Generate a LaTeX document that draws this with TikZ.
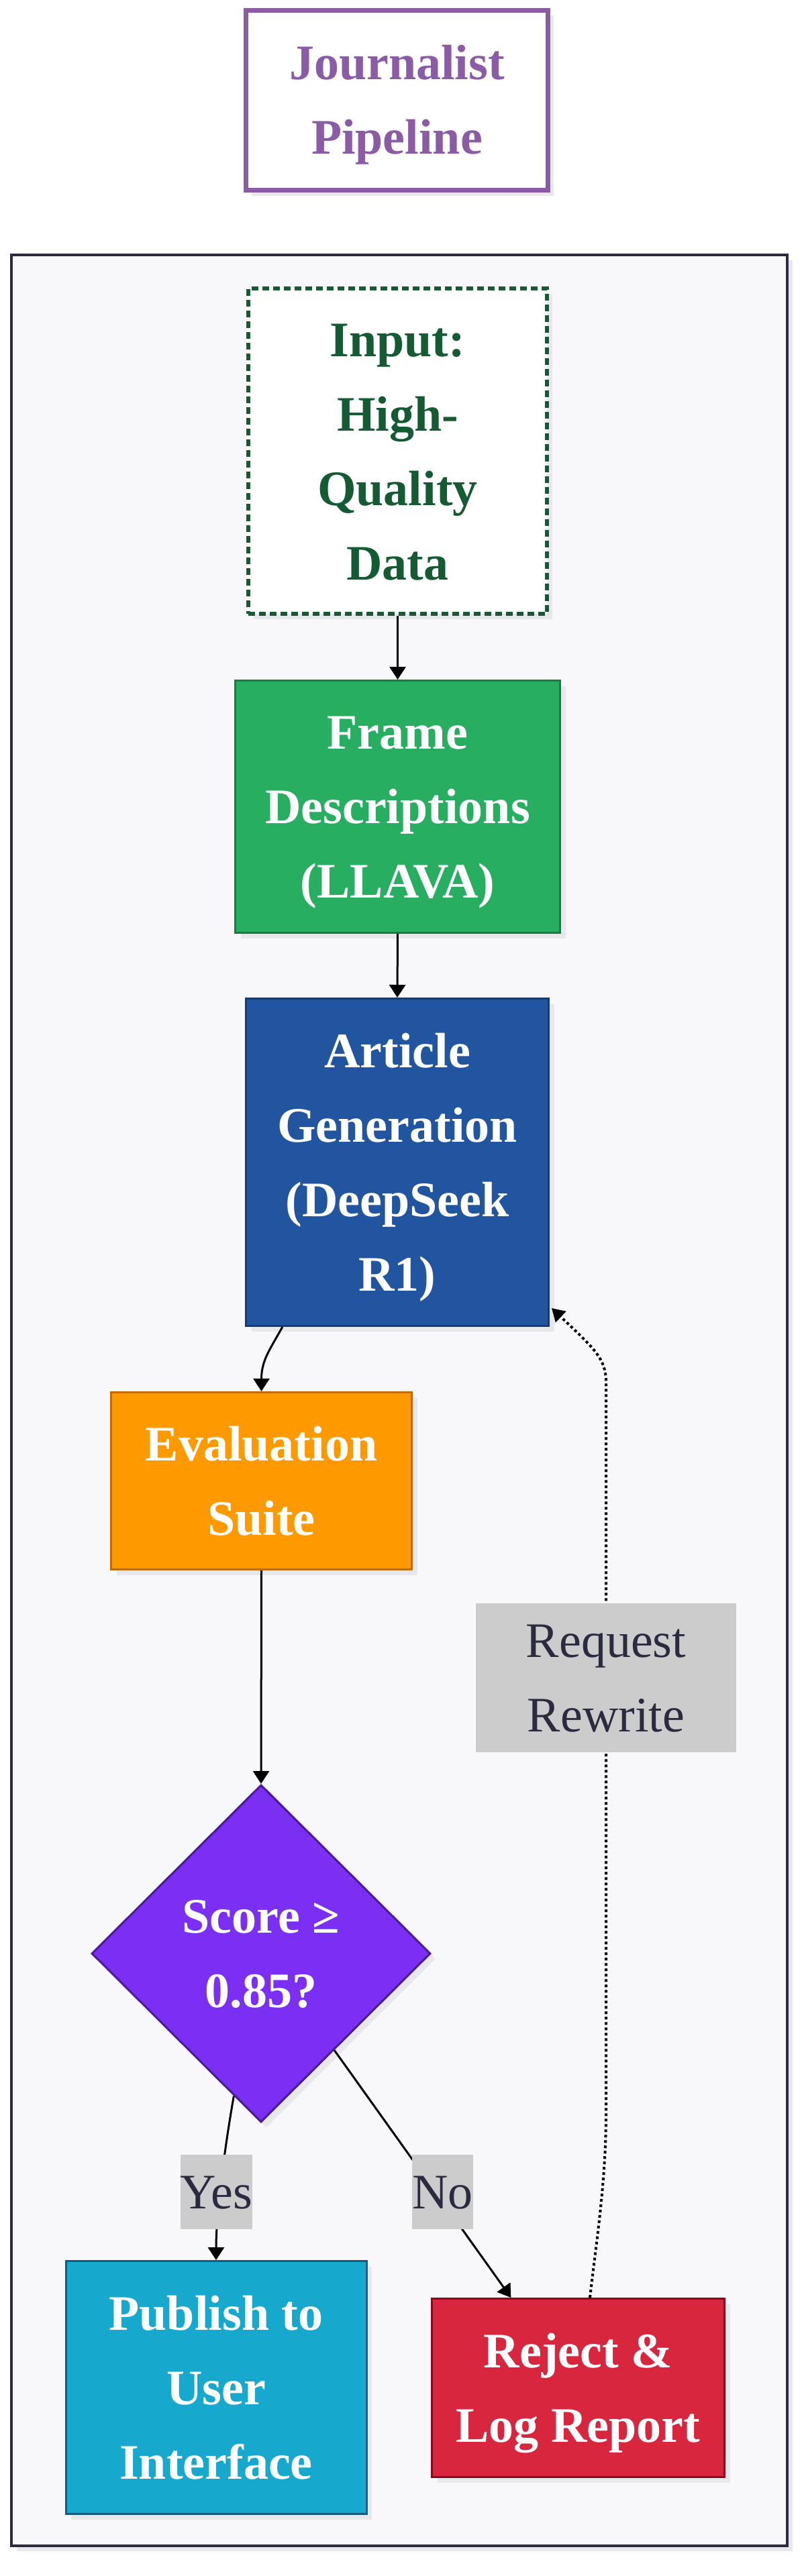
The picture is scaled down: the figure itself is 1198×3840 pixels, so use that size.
\documentclass[tikz,border=0pt]{standalone}
\usepackage{fontspec}
\setmainfont{Liberation Serif}
\usetikzlibrary{shapes.geometric,arrows.meta,calc}
\definecolor{ttl}{HTML}{8B5BA6}
\definecolor{navy}{HTML}{2B2B40}
\definecolor{bgc}{HTML}{F8F8FA}
\definecolor{shad}{HTML}{E8E8EC}
\definecolor{ingreen}{HTML}{145A32}
\definecolor{fdf}{HTML}{27AE60}
\definecolor{fdb}{HTML}{1C7A43}
\definecolor{arf}{HTML}{2255A0}
\definecolor{arb}{HTML}{163C78}
\definecolor{evf}{HTML}{FF9900}
\definecolor{evb}{HTML}{C46A00}
\definecolor{dpf}{HTML}{7B2FF2}
\definecolor{dpb}{HTML}{4B1A9A}
\definecolor{pbf}{HTML}{17A8CE}
\definecolor{pbb}{HTML}{135E80}
\definecolor{rjf}{HTML}{D7263D}
\definecolor{rjb}{HTML}{8B0A1A}
\definecolor{lblf}{HTML}{CCCCCC}
\newcommand\lnstrut{\rule[-30.5pt]{0pt}{111pt}}
\begin{document}
\begin{tikzpicture}[x=1pt,y=-1pt,
  shadowed/.style={preaction={fill=shad, transform canvas={shift={(8pt,-8pt)}}}},
  box/.style={rectangle, shadowed, line width=3pt, align=center, inner sep=0pt,
    font=\fontsize{74}{111}\selectfont\bfseries, text=white},
  lbl/.style={rectangle, fill=lblf, inner sep=0pt, align=center, text=navy,
    font=\fontsize{74}{111}\selectfont},
  edge/.style={line width=3pt, draw=black, -{Triangle[length=19pt,width=24pt]}},
  dotedge/.style={line width=4pt, draw=black, dash pattern=on 4pt off 4pt,
    -{Triangle[length=19pt,width=22pt]}}]
\useasboundingbox (0,0) rectangle (1198,3840);
\fill[white] (0,0) rectangle (1198,3840);

% title
\node[box, draw=ttl, fill=white, text=ttl, line width=7pt,
  minimum width=450pt, minimum height=268pt] (title) at (591.5,149.5)
  {\lnstrut Journalist\\\lnstrut Pipeline};

% container
\node[rectangle, shadowed, draw=navy, fill=bgc, line width=4pt,
  minimum width=1156pt, minimum height=3415pt] (cont) at (595,2087.5) {};

% nodes
\node[box, draw=ingreen, fill=white, text=ingreen, line width=6pt,
  dash pattern=on 10pt off 6pt,
  minimum width=445pt, minimum height=485pt] (inp) at (592.5,672.5)
  {\lnstrut Input:\\\lnstrut High-\\\lnstrut Quality\\\lnstrut Data};
\node[box, draw=fdb, fill=fdf, minimum width=484pt, minimum height=376pt]
  (fd) at (592.5,1202.5) {\lnstrut Frame\\\lnstrut Descriptions\\\lnstrut (LLAVA)};
\node[box, draw=arb, fill=arf, minimum width=451pt, minimum height=488pt]
  (art) at (592,1732.5) {\lnstrut Article\\\lnstrut Generation\\\lnstrut (DeepSeek\\\lnstrut R1)};
\node[box, draw=evb, fill=evf, minimum width=448pt, minimum height=264pt]
  (ev) at (389.5,2207.5) {\lnstrut Evaluation\\\lnstrut Suite};
\node[diamond, aspect=1, shadowed, draw=dpb, fill=dpf, line width=3pt,
  minimum width=505pt, minimum height=503pt, inner sep=0pt, text=white,
  align=center, font=\fontsize{74}{111}\selectfont\bfseries]
  (dia) at (389,2912) {\lnstrut Score ≥\\\lnstrut 0.85?};
\node[box, draw=pbb, fill=pbf, minimum width=448pt, minimum height=377pt]
  (pub) at (322,3559) {\lnstrut Publish to\\\lnstrut User\\\lnstrut Interface};
\node[box, draw=rjb, fill=rjf, minimum width=436pt, minimum height=266pt]
  (rej) at (861.5,3559.5) {\lnstrut Reject \&\\\lnstrut Log Report};

% edges
\draw[edge] (inp.south) -- (fd.north);
\draw[edge] (fd.south) -- (art.north);
\draw[edge] ($(art.south west)!0.123!(art.south east)$) .. controls (402,2012) and (389.5,2028) .. (ev.north);
\draw[edge] (ev.south) -- (dia.north);
\draw[edge] ($(dia.west)!0.84!(dia.south)$) .. controls (336,3195) and (322,3295) .. (pub.north);
\draw[edge] ($(dia.east)!0.57!(dia.south)$) -- ($(rej.north west)!0.272!(rej.north east)$);
\draw[dotedge] ($(rej.north west)!0.54!(rej.north east)$) .. controls (890,3330) and (903,3250) .. (903,3150)
  -- (903,2060) .. controls (903,2025) and (885,2010) .. ($(art.south east)+(3,-28)$);

% edge labels
\node[lbl, minimum width=105pt, minimum height=110pt] (yes) at (322.5,3267) {\lnstrut Yes};
\node[lbl, minimum width=87pt, minimum height=110pt] (no) at (659.5,3267) {\lnstrut No};
\node[lbl, minimum width=388pt, minimum height=219pt] (rr) at (903,2500.5) {\lnstrut Request\\\lnstrut Rewrite};
\end{tikzpicture}
\end{document}
